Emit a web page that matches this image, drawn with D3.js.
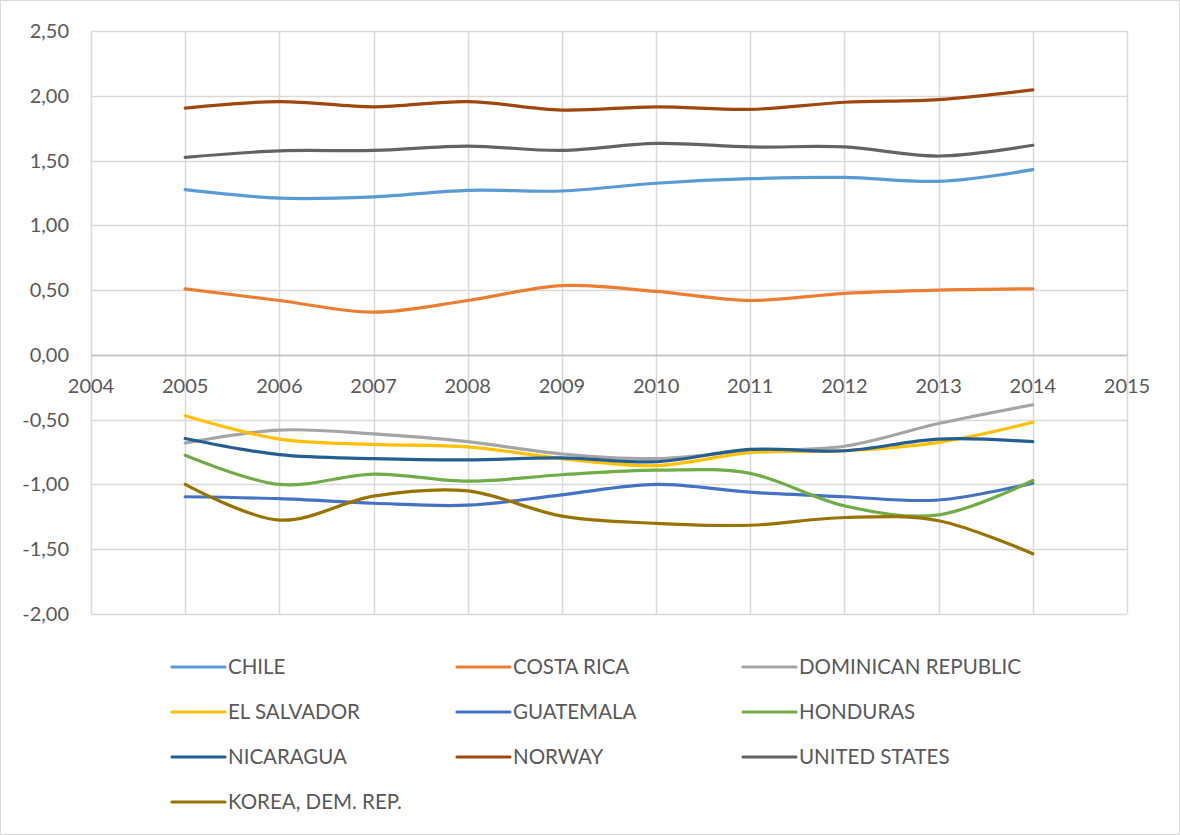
<!DOCTYPE html>
<html>
<head>
<meta charset="utf-8">
<script src="https://cdn.jsdelivr.net/npm/d3@7"></script>
<style>
body { margin: 0; background: #fff; }
text { font-family: Lato, "Open Sans", sans-serif; fill: #595959; }
</style>
</head>
<body>
<script>
var years = [2005, 2006, 2007, 2008, 2009, 2010, 2011, 2012, 2013, 2014];
var yTicks = [-2, -1.5, -1, -0.5, 0, 0.5, 1, 1.5, 2, 2.5];
var xTicks = [2004, 2005, 2006, 2007, 2008, 2009, 2010, 2011, 2012, 2013, 2014, 2015];

var countries = ["CHILE", "COSTA RICA", "DOMINICAN REPUBLIC", "EL SALVADOR", "GUATEMALA",
    "HONDURAS", "NICARAGUA", "NORWAY", "UNITED STATES", "KOREA, DEM. REP."];
var colors = ["#5b9bd5", "#ed7d31", "#a5a5a5", "#ffc000", "#4472c4",
    "#70ad47", "#255e91", "#9e480e", "#636363", "#997300"];

var chile = [1.275, 1.21, 1.22, 1.27, 1.265, 1.325, 1.36, 1.37, 1.34, 1.43];
var costaRica = [0.51, 0.42, 0.33, 0.42, 0.535, 0.49, 0.42, 0.475, 0.50, 0.51];
var dominican = [-0.68, -0.58, -0.61, -0.67, -0.765, -0.80, -0.74, -0.705, -0.53, -0.385];
var elSalvador = [-0.47, -0.65, -0.69, -0.71, -0.80, -0.855, -0.755, -0.74, -0.675, -0.52];
var guatemala = [-1.095, -1.11, -1.145, -1.16, -1.08, -1.0, -1.06, -1.095, -1.12, -0.99];
var honduras = [-0.775, -1.0, -0.92, -0.975, -0.925, -0.89, -0.915, -1.165, -1.235, -0.97];
var nicaragua = [-0.645, -0.77, -0.80, -0.81, -0.795, -0.825, -0.73, -0.74, -0.65, -0.67];
var norway = [1.905, 1.955, 1.915, 1.955, 1.89, 1.915, 1.895, 1.95, 1.97, 2.045];
var unitedStates = [1.525, 1.575, 1.578, 1.612, 1.578, 1.632, 1.605, 1.605, 1.535, 1.618];
var korea = [-1.0, -1.275, -1.09, -1.05, -1.245, -1.30, -1.315, -1.255, -1.28, -1.535];

var seriesValues = [chile, costaRica, dominican, elSalvador, guatemala,
    honduras, nicaragua, norway, unitedStates, korea];

var W = 1180, H = 835;
var plotLeft = 91, plotRight = 1127, plotTop = 31, plotBottom = 614;

var svg = d3.select("body").append("svg")
    .attr("width", W)
    .attr("height", H);

// chart border
svg.append("rect")
    .attr("x", 0.5).attr("y", 0.5)
    .attr("width", W - 1).attr("height", H - 1)
    .attr("fill", "#fff")
    .attr("stroke", "#d9d9d9");

var x = d3.scaleLinear().domain([2004, 2015]).range([plotLeft, plotRight]);
var y = d3.scaleLinear().domain([-2, 2.5]).range([plotBottom, plotTop]);

var fmt = function(d) { return d3.format(".2f")(d).replace(".", ",").replace("−", "-"); };

// gridlines
svg.append("g").selectAll("line")
    .data(yTicks)
    .enter().append("line")
    .attr("x1", plotLeft).attr("x2", plotRight)
    .attr("y1", function(d) { return Math.round(y(d)) + 0.5; })
    .attr("y2", function(d) { return Math.round(y(d)) + 0.5; })
    .attr("stroke", "#d9d9d9")
    .attr("stroke-width", 1.5);

svg.append("g").selectAll("line")
    .data(xTicks)
    .enter().append("line")
    .attr("x1", function(d) { return Math.round(x(d)) + 0.5; })
    .attr("x2", function(d) { return Math.round(x(d)) + 0.5; })
    .attr("y1", plotTop).attr("y2", plotBottom)
    .attr("stroke", "#d9d9d9")
    .attr("stroke-width", 1.5);

// zero axis line
svg.append("line")
    .attr("x1", plotLeft).attr("x2", plotRight)
    .attr("y1", Math.round(y(0)) + 0.5).attr("y2", Math.round(y(0)) + 0.5)
    .attr("stroke", "#bfbfbf")
    .attr("stroke-width", 1.5);

// y labels
svg.append("g").selectAll("text")
    .data(yTicks)
    .enter().append("text")
    .attr("x", 69)
    .attr("y", function(d) { return y(d) + 7; })
    .attr("text-anchor", "end")
    .style("font-size", "20px")
    .text(fmt);

// x labels (axis crosses at 0)
svg.append("g").selectAll("text")
    .data(xTicks)
    .enter().append("text")
    .attr("x", function(d) { return x(d); })
    .attr("y", y(0) + 38)
    .attr("text-anchor", "middle")
    .style("font-size", "20px")
    .text(function(d) { return d; });

// lines
var line = d3.line()
    .x(function(d, i) { return x(years[i]); })
    .y(function(d) { return y(d); })
    .curve(d3.curveCardinal.tension(0));

svg.append("g").selectAll("path")
    .data(seriesValues)
    .enter().append("path")
    .attr("d", line)
    .attr("fill", "none")
    .attr("stroke", function(d, i) { return colors[i]; })
    .attr("stroke-width", 3.2)
    .attr("stroke-linecap", "round");

// legend
var colX = [172, 457, 743];
var rowY = [667, 712, 757, 802];
var legend = svg.append("g").selectAll("g")
    .data(countries)
    .enter().append("g")
    .attr("transform", function(d, i) {
        return "translate(" + colX[i % 3] + "," + rowY[Math.floor(i / 3)] + ")";
    });
legend.append("line")
    .attr("x1", 0).attr("x2", 53)
    .attr("stroke", function(d, i) { return colors[i]; })
    .attr("stroke-width", 3.2)
    .attr("stroke-linecap", "round");
legend.append("text")
    .attr("x", 56)
    .attr("y", 7)
    .style("font-size", "20.5px")
    .text(function(d) { return d; });
</script>
</body>
</html>
